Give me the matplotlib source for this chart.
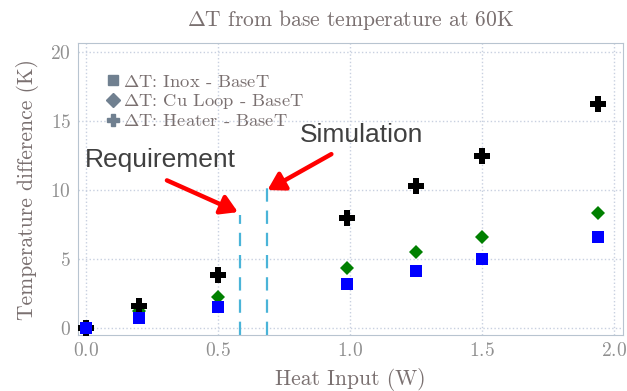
import matplotlib
matplotlib.use('Agg')
import matplotlib.pyplot as plt
from matplotlib.lines import Line2D

plt.rcParams['font.family'] = 'serif'
plt.rcParams['font.serif'] = ['cmr10']
plt.rcParams['mathtext.fontset'] = 'cm'
plt.rcParams['axes.unicode_minus'] = False
plt.rcParams['axes.formatter.use_mathtext'] = True

# heat input (W)
power = [0.0, 0.2, 0.5, 0.99, 1.25, 1.5, 1.94]
# temperature differences (K)
dT_inox = [0.0, 0.7, 1.5, 3.2, 4.1, 5.0, 6.6]
dT_cu = [0.0, 1.25, 2.25, 4.35, 5.5, 6.6, 8.35]
dT_heater = [0.0, 1.6, 3.85, 8.0, 10.3, 12.5, 16.25]

req_x = 0.583
sim_x = 0.686
req_top = 8.2
sim_top = 10.2

grey = '#7a7070'
spine = '#b8c4d0'

fig = plt.figure(figsize=(6.27, 3.91), dpi=100)
ax = fig.add_axes([78/627, 56/391, 545/627, 292/391])

ax.plot(power, dT_cu, 'D', color='green', ms=7, mew=0, zorder=3)
ax.plot(power, dT_heater, 'P', color='black', ms=11, mew=0, zorder=3)
ax.plot(power, dT_inox, 's', color='blue', ms=8, mew=0, zorder=4)

ax.plot([req_x, req_x], [-0.5, req_top], '--', color='#4ab4d8', lw=1.6, dashes=(6, 4))
ax.plot([sim_x, sim_x], [-0.5, sim_top], '--', color='#4ab4d8', lw=1.6, dashes=(6, 4))

ax.set_xlim(-0.03, 2.035)
ax.set_ylim(-0.5, 20.65)
ax.set_xticks([0.0, 0.5, 1.0, 1.5, 2.0])
ax.set_yticks([0, 5, 10, 15, 20])
ax.grid(True, linestyle=':', color='#c8d0e0', lw=1)
for s in ax.spines.values():
    s.set_color(spine)
ax.tick_params(length=0, labelsize=14, labelcolor='#909090', pad=5)

ax.set_title(r'$\Delta$T from base temperature at 60K', fontsize=15.5, color=grey, pad=12)
ax.set_xlabel('Heat Input (W)', fontsize=15.5, color=grey, labelpad=6)
ax.set_ylabel('Temperature difference (K)', fontsize=15.5, color=grey, labelpad=8)

handles = [
    Line2D([], [], marker='s', ls='', color='#708090', ms=7),
    Line2D([], [], marker='D', ls='', color='#708090', ms=7),
    Line2D([], [], marker='P', ls='', color='#708090', ms=9),
]
labels = [r'$\Delta$T: Inox - BaseT', r'$\Delta$T: Cu Loop - BaseT', r'$\Delta$T: Heater - BaseT']
leg = ax.legend(handles, labels, loc='upper left', bbox_to_anchor=(0.035, 0.92), frameon=False,
                fontsize=13.3, handletextpad=0.1, handlelength=0.9, labelspacing=0.12, borderaxespad=0)
for t in leg.get_texts():
    t.set_color(grey)

arrow = dict(arrowstyle='-|>,head_length=1.0,head_width=0.6', color='red', lw=3.2,
             shrinkA=0, shrinkB=0)
ax.text(-0.005, 12.2, 'Requirement', fontsize=19, color='#404040', family='Liberation Sans',
        ha='left', va='center')
ax.annotate('', xy=(0.576, 8.4), xytext=(0.307, 10.7), arrowprops=arrow)
ax.text(0.81, 14.0, 'Simulation', fontsize=19, color='#404040', family='Liberation Sans',
        ha='left', va='center')
ax.annotate('', xy=(0.688, 10.0), xytext=(0.93, 12.6), arrowprops=arrow)

fig.savefig('out.png', dpi=100)
